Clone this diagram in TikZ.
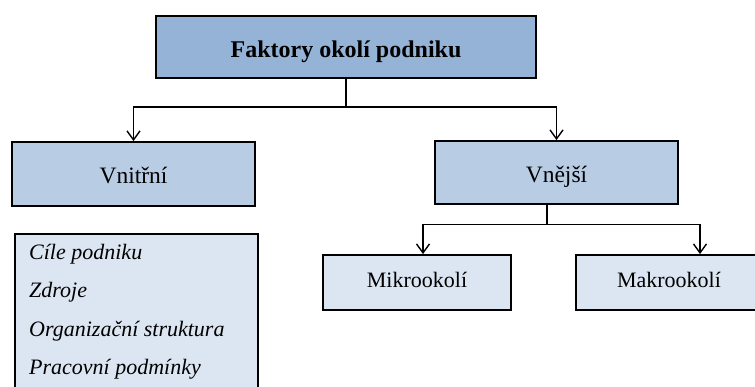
\documentclass[tikz,border=0pt]{standalone}
\usepackage{fontspec}
\setmainfont{Liberation Serif}
\usetikzlibrary{arrows.meta}

\definecolor{topfill}{HTML}{95B3D7}
\definecolor{midfill}{HTML}{B8CCE4}
\definecolor{lowfill}{HTML}{DCE6F2}

\tikzset{
  box/.style={draw=black, line width=1.8pt, rectangle, inner sep=0pt,
              text depth=0pt, font=\fontsize{22}{26}\selectfont},
  conn/.style={draw=black, line width=1.5pt},
  arr/.style={conn, -{Straight Barb[length=9pt, width=13pt, line width=1.4pt]}},
  item/.style={anchor=base west, inner sep=0pt,
               font=\fontsize{22}{26}\selectfont\itshape}
}

\begin{document}
\begin{tikzpicture}[x=1pt, y=-1pt]
  \useasboundingbox (0,0) rectangle (755,387);

  % top level
  \node[box, fill=topfill, minimum width=380, minimum height=62, text height=22pt,
        font=\fontsize{24}{28}\selectfont\bfseries] (top) at (346,47) {Faktory okolí podniku};

  % second level
  \node[box, fill=midfill, minimum width=243, minimum height=64, text height=20pt,
        font=\fontsize{23.5}{28}\selectfont] (vnitrni) at (133.5,174) {Vnitřní};
  \node[box, fill=midfill, minimum width=243, minimum height=63, text height=21pt,
        font=\fontsize{23.5}{28}\selectfont] (vnejsi) at (556.5,172.5) {Vnější};

  % third level
  \node[box, fill=lowfill, minimum width=188, minimum height=55, text height=11pt] (mikro) at (417,282.5) {Mikrookolí};
  \node[box, fill=lowfill, minimum width=186, minimum height=55, text height=11pt] (makro) at (669,282.5) {Makrookolí};

  % list of internal factors
  \node[box, fill=lowfill, minimum width=243, minimum height=164, anchor=north west] (list) at (14,233) {};
  \node[item] (i1) at (29,260) {Cíle podniku};
  \node[item] (i2) at (29,298) {Zdroje};
  \node[item] (i3) at (29,337) {Organizační struktura};
  \node[item] (i4) at (29,374) {Pracovní podmínky};

  % connectors
  \draw[conn] (top.south) -- ++(0,28) coordinate (j1);
  \draw[arr] (j1) -| (vnitrni.north);
  \draw[arr] (j1) -| (vnejsi.north);

  \draw[conn] ([xshift=-9.5pt]vnejsi.south) -- ++(0,19.5) coordinate (j2);
  \draw[arr] (j2) -| ([xshift=6pt]mikro.north);
  \draw[arr] (j2) -| ([xshift=31pt]makro.north);
\end{tikzpicture}
\end{document}
